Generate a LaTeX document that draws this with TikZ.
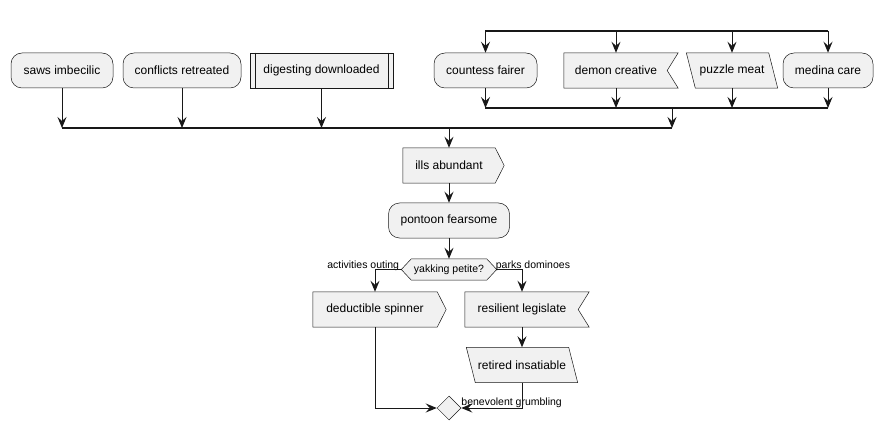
\documentclass[tikz,border=0pt]{standalone}
\usepackage{fontspec}
\setmainfont{Liberation Sans}
\usetikzlibrary{arrows.meta,backgrounds,shapes.geometric}

\definecolor{boxfill}{HTML}{F1F1F1}
\definecolor{boxline}{HTML}{181818}

\tikzset{
  activity/.style={draw=boxline, line width=0.5pt, fill=boxfill, rounded corners=11pt,
    minimum height=35pt, inner sep=0pt, font=\fontsize{12}{14}\selectfont},
  textbox/.style={minimum height=35pt, inner sep=0pt, font=\fontsize{12}{14}\selectfont},
  outline/.style={draw=boxline, line width=0.5pt, fill=boxfill},
  flow/.style={draw=boxline, line width=1pt, -{Stealth[length=11pt,width=9pt,inset=4pt]}},
  bar/.style={draw=boxline, line width=2pt},
  guard/.style={inner sep=0pt, font=\fontsize{10.5}{12}\selectfont},
}

\begin{document}
\begin{tikzpicture}[x=1pt,y=-1pt]
        \useasboundingbox (0,0) rectangle (882,430);

        % first row
        \node[activity, minimum width=102pt] (saws) at (62,70.5) {saws imbecilic};
        \node[activity, minimum width=118pt] (conflicts) at (182,70.5) {conflicts retreated};
        \node[activity, sharp corners, minimum width=143pt] (digesting) at (321.5,70.5) {digesting downloaded};
        \draw[boxline, line width=0.5pt] ([xshift=5pt]digesting.north west) -- ([xshift=5pt]digesting.south west);
        \draw[boxline, line width=0.5pt] ([xshift=-5pt]digesting.north east) -- ([xshift=-5pt]digesting.south east);
        \node[activity, minimum width=103pt] (countess) at (485.5,70.5) {countess fairer};
        \node[textbox, minimum width=104pt] (demon) at (616,70.5) {demon creative};
        \node[textbox, minimum width=82pt] (puzzle) at (732,70.5) {puzzle meat};
        \node[activity, minimum width=90pt] (medina) at (828,70.5) {medina care};

        % main line
        \node[textbox, minimum width=92pt] (ills) at (449,165.5) {ills abundant};
        \node[activity, minimum width=121pt] (pontoon) at (449,220.5) {pontoon fearsome};
        \node[guard, minimum width=75pt, minimum height=21pt] (choice) at (449,269.5) {yakking petite?};
        \node[textbox, minimum width=124pt] (deductible) at (375,309.5) {deductible spinner};
        \node[textbox, minimum width=114pt] (resilient) at (522,309.5) {resilient legislate};
        \node[textbox, minimum width=102pt] (retired) at (522,365) {retired insatiable};
        \node[diamond, outline, minimum size=24pt, inner sep=0pt] (merge) at (449,408) {};

        \node[guard, anchor=base east] (left label) at ([xshift=-12pt,yshift=1.5pt]choice.west) {activities outing};
        \node[guard, anchor=base west] (right label) at ([xshift=9pt,yshift=1.5pt]choice.east) {parks dominoes};
        \node[guard, anchor=base west] (merge label) at ([yshift=3pt]merge.east) {benevolent grumbling};

        % outlines of the special shapes
        \begin{scope}[on background layer]
          \draw[outline] (demon.north west) -- ([xshift=10pt]demon.north east) -- ([xshift=-1pt]demon.east)
            -- ([xshift=10pt]demon.south east) -- (demon.south west) -- cycle;
          \draw[outline] ([xshift=-4.5pt]puzzle.north west) -- ([xshift=-4.5pt]puzzle.north east)
            -- ([xshift=4.5pt]puzzle.south east) -- ([xshift=4.5pt]puzzle.south west) -- cycle;
          \draw[outline] (ills.north west) -- (ills.north east) -- ([xshift=9pt]ills.east)
            -- (ills.south east) -- (ills.south west) -- cycle;
          \draw[outline] ([xshift=-10pt]choice.west) -- (choice.north west) -- (choice.north east)
            -- ([xshift=10pt]choice.east) -- (choice.south east) -- (choice.south west) -- cycle;
          \draw[outline] (deductible.north west) -- (deductible.north east) -- ([xshift=9pt]deductible.east)
            -- (deductible.south east) -- (deductible.south west) -- cycle;
          \draw[outline] (resilient.north west) -- ([xshift=10pt]resilient.north east) -- ([xshift=-1pt]resilient.east)
            -- ([xshift=10pt]resilient.south east) -- (resilient.south west) -- cycle;
          \draw[outline] ([xshift=-4.5pt]retired.north west) -- ([xshift=-4.5pt]retired.north east)
            -- ([xshift=4.5pt]retired.south east) -- ([xshift=4.5pt]retired.south west) -- cycle;
        \end{scope}

        % split and joins
        \coordinate (split west) at (485,31);
        \coordinate (split east) at (828,31);
        \coordinate (inner west) at (485,108);
        \coordinate (inner east) at (828,108);
        \coordinate (inner out) at (672,108);
        \coordinate (outer west) at (62,128);
        \coordinate (outer east) at (672,128);

        \draw[bar] (split west) -- (split east);
        \draw[bar] (inner west) -- (inner east);
        \draw[bar] (outer west) -- (outer east);

        \foreach \n in {countess,demon,puzzle,medina} {
          \draw[flow] (\n |- split west) -- (\n);
          \draw[flow] (\n) -- (\n |- inner west);
        }
        \draw[flow] (inner out) -- (outer east);
        \foreach \n in {saws,conflicts,digesting}
          \draw[flow] (\n) -- (\n |- outer west);

        \draw[flow] (ills |- outer west) -- (ills);
        \draw[flow] (ills) -- (pontoon);
        \draw[flow] (pontoon) -- (choice);
        \draw[flow] ([xshift=-10pt]choice.west) -| (deductible);
        \draw[flow] ([xshift=10pt]choice.east) -| (resilient);
        \draw[flow] (resilient) -- (retired);
        \draw[flow] (deductible) |- (merge);
        \draw[flow] (retired) |- (merge);
\end{tikzpicture}
\end{document}
